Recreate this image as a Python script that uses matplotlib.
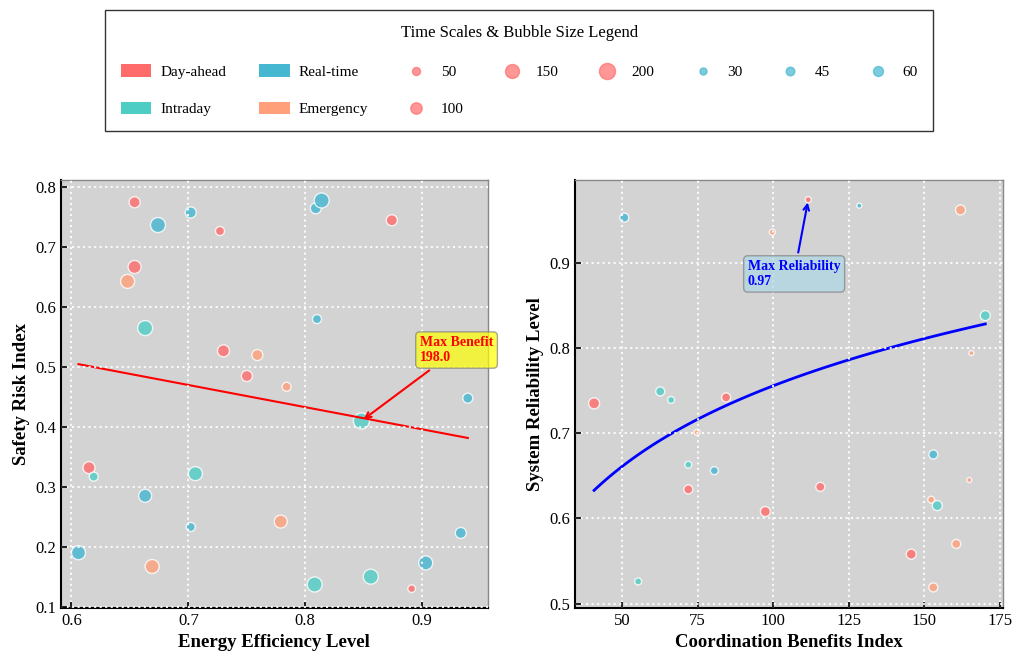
import matplotlib.pyplot as plt
import numpy as np
from matplotlib.patches import Patch

plt.rcParams['font.family'] = ['Liberation Serif', 'DejaVu Serif']

scale_names = ['Day-ahead', 'Intraday', 'Real-time', 'Emergency']
scale_colors = {'Day-ahead': '#FF6B6B', 'Intraday': '#4ECDC4',
                'Real-time': '#45B7D1', 'Emergency': '#FFA07A'}

# left panel: efficiency vs risk, bubble = coordination benefit
eff = [0.654, 0.702, 0.674, 0.727, 0.809, 0.814, 0.874, 0.654, 0.648, 0.663,
       0.810, 0.730, 0.759, 0.750, 0.784, 0.939, 0.848, 0.615, 0.619, 0.706,
       0.663, 0.702, 0.779, 0.933, 0.606, 0.669, 0.808, 0.856, 0.903, 0.891]
risk = [0.775, 0.758, 0.737, 0.727, 0.765, 0.778, 0.745, 0.667, 0.643, 0.565,
        0.580, 0.527, 0.520, 0.485, 0.467, 0.448, 0.410, 0.332, 0.317, 0.322,
        0.285, 0.233, 0.242, 0.223, 0.190, 0.167, 0.137, 0.150, 0.173, 0.130]
benefit = [94, 94, 174, 63, 94, 174, 94, 131, 152, 174,
           63, 111, 94, 94, 63, 77, 198, 111, 63, 152,
           131, 63, 131, 94, 152, 152, 174, 174, 152, 45]
scale_left = ['Day-ahead', 'Real-time', 'Real-time', 'Day-ahead', 'Real-time',
              'Real-time', 'Day-ahead', 'Day-ahead', 'Emergency', 'Intraday',
              'Real-time', 'Day-ahead', 'Emergency', 'Day-ahead', 'Emergency',
              'Real-time', 'Intraday', 'Day-ahead', 'Intraday', 'Intraday',
              'Real-time', 'Real-time', 'Emergency', 'Real-time', 'Real-time',
              'Emergency', 'Intraday', 'Intraday', 'Real-time', 'Day-ahead']
risk_fit = [-0.37, 0.729]  # slope, intercept

# right panel: benefits index vs reliability, bubble = response time
coord = [50.7, 111.6, 99.7, 128.5, 162.0, 170.2, 165.6, 40.7, 62.6, 66.2,
         84.4, 74.8, 71.9, 80.5, 71.9, 97.4, 115.6, 153.0, 164.9, 152.3,
         154.3, 160.6, 145.7, 55.3, 153.0]
reliab = [0.953, 0.974, 0.936, 0.967, 0.962, 0.838, 0.794, 0.735, 0.749, 0.739,
          0.742, 0.701, 0.663, 0.656, 0.634, 0.608, 0.637, 0.675, 0.645, 0.622,
          0.615, 0.570, 0.558, 0.526, 0.519]
resp = [49, 22, 22, 15, 60, 60, 15, 73, 49, 29,
        49, 22, 29, 38, 49, 60, 49, 49, 15, 29,
        60, 49, 60, 29, 49]
scale_right = ['Real-time', 'Day-ahead', 'Emergency', 'Real-time', 'Emergency',
               'Intraday', 'Emergency', 'Day-ahead', 'Intraday', 'Intraday',
               'Day-ahead', 'Emergency', 'Intraday', 'Real-time', 'Day-ahead',
               'Day-ahead', 'Day-ahead', 'Real-time', 'Emergency', 'Emergency',
               'Intraday', 'Emergency', 'Day-ahead', 'Intraday', 'Emergency']
reliab_fit = [0.127, 0.1365]  # a + b*ln(x)

benefit_sizes = [50, 100, 150, 200]
resp_sizes = [30, 45, 60]
k_left, k_right = 0.67, 0.86

fig = plt.figure(figsize=(10.16, 6.55), dpi=100)
ax1 = fig.add_axes([0.060, 0.072, 0.420, 0.653])
ax2 = fig.add_axes([0.566, 0.072, 0.421, 0.653])


def style_axes(ax):
    ax.set_facecolor('#D3D3D3')
    ax.set_axisbelow(False)
    ax.grid(True, color='white', linestyle=':', linewidth=1.5, alpha=0.9)
    for side in ['left', 'bottom']:
        ax.spines[side].set_color('black')
        ax.spines[side].set_linewidth(1.5)
    for side in ['top', 'right']:
        ax.spines[side].set_color('#888888')
        ax.spines[side].set_linewidth(1.0)
    ax.tick_params(direction='in', length=4, width=1.2, labelsize=12)


# left
cols = [scale_colors[s] for s in scale_left]
ax1.scatter(eff, risk, s=np.array(benefit) * k_left, c=cols, alpha=0.8,
            edgecolors='white', linewidths=1)
xs = np.linspace(min(eff), max(eff), 50)
ax1.plot(xs, risk_fit[0] * xs + risk_fit[1], color='red', linewidth=1.5)
i = int(np.argmax(benefit))
ax1.annotate(f'Max Benefit\n{benefit[i]:.1f}', xy=(eff[i], risk[i]),
             xytext=(eff[i] + 0.05, risk[i] + 0.1), color='red',
             fontsize=10, fontweight='bold',
             bbox=dict(boxstyle='round,pad=0.3', facecolor='yellow',
                       edgecolor='gray', alpha=0.7),
             arrowprops=dict(arrowstyle='->', color='red', lw=1.5))
ax1.set_xlim(0.591, 0.956)
ax1.set_ylim(0.098, 0.812)
ax1.set_xticks([0.6, 0.7, 0.8, 0.9])
style_axes(ax1)
ax1.set_xlabel('Energy Efficiency Level', fontsize=13.5, fontweight='bold')
ax1.set_ylabel('Safety Risk Index', fontsize=13.5, fontweight='bold')

# right
cols = [scale_colors[s] for s in scale_right]
ax2.scatter(coord, reliab, s=np.array(resp) * k_right, c=cols, alpha=0.8,
            edgecolors='white', linewidths=1)
xs = np.linspace(min(coord), max(coord), 100)
ax2.plot(xs, reliab_fit[0] + reliab_fit[1] * np.log(xs), color='blue',
         linewidth=2)
j = int(np.argmax(reliab))
ax2.annotate(f'Max Reliability\n{reliab[j]:.2f}', xy=(coord[j], reliab[j]),
             xytext=(coord[j] - 20, reliab[j] - 0.1), color='blue',
             fontsize=10, fontweight='bold',
             bbox=dict(boxstyle='round,pad=0.3', facecolor='lightblue',
                       edgecolor='gray', alpha=0.7),
             arrowprops=dict(arrowstyle='->', color='blue', lw=1.5))
ax2.set_xlim(34.4, 176)
ax2.set_ylim(0.495, 0.997)
ax2.set_xticks([50, 75, 100, 125, 150, 175])
ax2.set_yticks([0.5, 0.6, 0.7, 0.8, 0.9])
style_axes(ax2)
ax2.set_xlabel('Coordination Benefits Index', fontsize=13.5, fontweight='bold')
ax2.set_ylabel('System Reliability Level', fontsize=13.5, fontweight='bold')

# shared legend
handles = [Patch(facecolor=scale_colors[n], label=n) for n in scale_names]
for v in benefit_sizes:
    handles.append(plt.scatter([], [], s=v * k_left, c='#FF6B6B', alpha=0.7,
                               label=str(v)))
for v in resp_sizes:
    handles.append(plt.scatter([], [], s=v * k_right, c='#45B7D1', alpha=0.7,
                               label=str(v)))
leg = fig.legend(handles=handles, loc='upper center',
                 bbox_to_anchor=(0.511, 0.985), ncol=8, fontsize=11,
                 title='Time Scales & Bubble Size Legend', title_fontsize=12,
                 frameon=True, fancybox=False, edgecolor='black',
                 labelspacing=1.5, columnspacing=2.15, borderpad=1.0,
                 handleheight=0.9, handletextpad=0.6, borderaxespad=0,
                 scatterpoints=1)
leg.get_frame().set_linewidth(1.0)

fig.savefig('out.png', dpi=100)
